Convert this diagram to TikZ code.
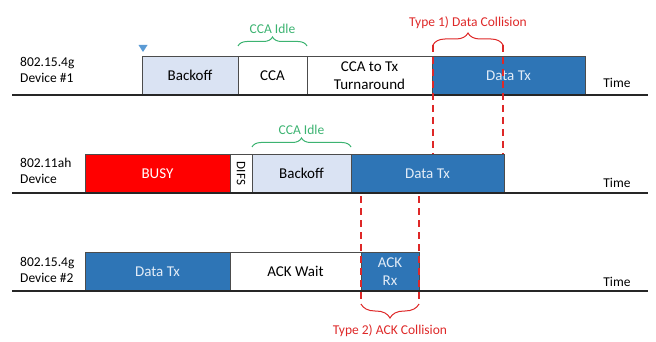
\documentclass[tikz,border=0pt]{standalone}
\usepackage{fontspec}
\setmainfont{Carlito}
\usetikzlibrary{positioning,decorations.pathreplacing}

\definecolor{txblue}{RGB}{46,117,182}
\definecolor{txtext}{RGB}{226,236,247}
\definecolor{bofill}{RGB}{218,227,243}
\definecolor{busyred}{RGB}{255,0,0}
\definecolor{idlegreen}{RGB}{60,179,113}
\definecolor{collred}{RGB}{222,40,40}
\definecolor{markblue}{RGB}{91,155,213}

\tikzset{
  slot/.style={draw=black!70, line width=0.8pt, minimum height=39pt, inner sep=0pt,
    outer sep=0pt, align=center, font=\fontsize{15}{18}\selectfont},
  txslot/.style={slot, fill=txblue, text=txtext},
  devlabel/.style={anchor=west, align=left, inner sep=0pt, font=\fontsize{13.5}{16}\selectfont},
  timeaxis/.style={line width=1.3pt, black!85},
  timelabel/.style={font=\fontsize{13.5}{16}\selectfont},
  idlebrace/.style={decorate, decoration={brace, amplitude=9pt}, idlegreen, line width=1pt},
  collbrace/.style={decorate, decoration={brace, amplitude=12pt}, collred, line width=1pt},
  collline/.style={collred, line width=1.6pt, dash pattern=on 7pt off 5pt},
}

\begin{document}
\begin{tikzpicture}[x=1pt, y=-1pt]
\useasboundingbox (0,0) rectangle (656,342);

% 802.15.4g device #1
\node[devlabel] (dev1) at (20,70) {802.15.4g\\Device \#1};
\node[slot, fill=bofill, minimum width=96pt] (bo1) at (190,75.5) {Backoff};
\node[slot, minimum width=69pt, right=0pt of bo1] (cca1) {CCA};
\node[slot, minimum width=125pt, right=0pt of cca1] (turn1) {CCA to Tx\\Turnaround};
\node[txslot, minimum width=153pt, right=0pt of turn1] (tx1) {Data Tx};
\draw[timeaxis] (12,95) coordinate (ax1) -- (648,95) coordinate (ax1e);
\node[timelabel] (time1) at (617,83) {Time};
\fill[markblue] (138.5,45) -- (147.5,45) -- (143,52) -- cycle;

% 802.11ah device
\node[devlabel] (dev2) at (20,171) {802.11ah\\Device};
\node[slot, fill=busyred, text=white, minimum width=145pt] (busy2) at (157.5,173.5) {BUSY};
\node[slot, minimum width=22pt, right=0pt of busy2] (difs2) {};
\node[rotate=-90, inner sep=0pt, font=\fontsize{13}{15}\selectfont] (difstext) at (difs2) {DIFS};
\node[slot, fill=bofill, minimum width=99pt, right=0pt of difs2] (bo2) {Backoff};
\node[txslot, minimum width=153pt, right=0pt of bo2] (tx2) {Data Tx};
\draw[timeaxis] (12,193) coordinate (ax2) -- (648,193) coordinate (ax2e);
\node[timelabel] (time2) at (617,183) {Time};

% 802.15.4g device #2
\node[devlabel] (dev3) at (20,270) {802.15.4g\\Device \#2};
\node[txslot, minimum width=145pt] (tx3) at (157.5,271.5) {Data Tx};
\node[slot, minimum width=131pt, right=0pt of tx3] (wait3) {ACK Wait};
\node[txslot, minimum width=58pt, right=0pt of wait3] (ack3) {ACK\\Rx};
\draw[timeaxis] (12,291) coordinate (ax3) -- (648,291) coordinate (ax3e);
\node[timelabel] (time3) at (617,282) {Time};

% CCA idle braces
\draw[idlebrace] ([yshift=10pt]cca1.north west) -- ([yshift=10pt]cca1.north east)
  node[midway, above=9pt, text=idlegreen, font=\fontsize{13.5}{16}\selectfont] (idle1) {CCA Idle};
\draw[idlebrace] ([yshift=7pt]bo2.north west) -- ([yshift=7pt]bo2.north east)
  node[midway, above=9pt, text=idlegreen, font=\fontsize{13.5}{16}\selectfont] (idle2) {CCA Idle};

% type 1 collision
\coordinate (c1l) at (433,45);
\coordinate (c1r) at (503,45);
\draw[collline] (c1l) -- (c1l |- tx2.north);
\draw[collline] (c1r) -- (c1r |- tx2.north);
\draw[collbrace] (c1l) -- (c1r)
  node[midway, above=12pt, text=collred, font=\fontsize{13.5}{16}\selectfont] (coll1) {Type 1) Data Collision};

% type 2 collision
\coordinate (c2l) at (361,304);
\coordinate (c2r) at (419,304);
\draw[collline] (c2l |- tx2.south) ++(0,3) -- (c2l);
\draw[collline] (c2r |- tx2.south) ++(0,3) -- (c2r);
\draw[collbrace, decoration={amplitude=14pt}] (c2r) -- (c2l)
  node[midway, below=17pt, text=collred, font=\fontsize{13.5}{16}\selectfont] (coll2) {Type 2) ACK Collision};
\end{tikzpicture}
\end{document}
